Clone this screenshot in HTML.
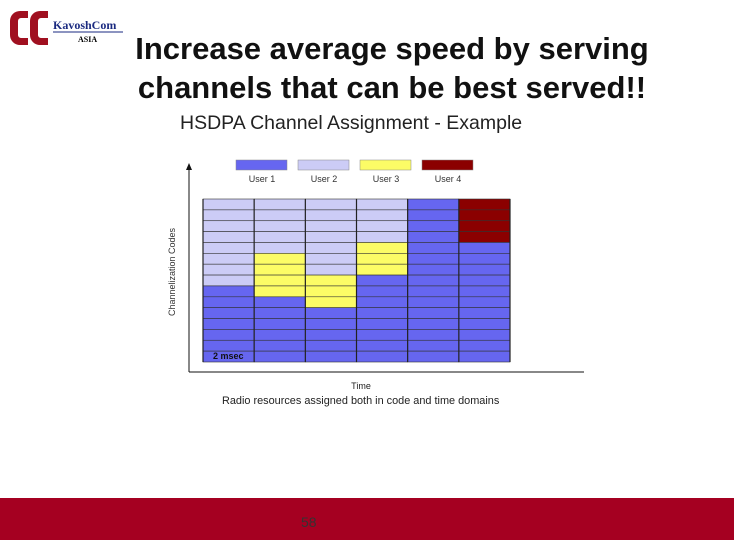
<!DOCTYPE html>
<html><head><meta charset="utf-8"><style>
body{margin:0;width:734px;height:540px;background:#fff;position:relative;overflow:hidden;font-family:"Liberation Sans",sans-serif}
.t{position:absolute;white-space:nowrap}
</style></head><body>
<div class="t" style="left:8px;top:8px;width:120px;height:44px">
<svg width="120" height="44"><path d="M20 3 h-8 a10 10 0 0 0 -10 10 v14 a10 10 0 0 0 10 10 h8 v-7 h-7 a3 3 0 0 1 -3 -3 v-14 a3 3 0 0 1 3 -3 h7z" fill="#a01020"/><path d="M40 3 h-8 a10 10 0 0 0 -10 10 v14 a10 10 0 0 0 10 10 h8 v-7 h-7 a3 3 0 0 1 -3 -3 v-14 a3 3 0 0 1 3 -3 h7z" fill="#a01020"/>
<text x="45" y="21" font-family="Liberation Serif" font-size="12" font-weight="bold" fill="#1a2a80">KavoshCom</text><line x1="45" y1="24" x2="115" y2="24" stroke="#1a2a80"/><text x="70" y="34" font-family="Liberation Serif" font-size="8" font-weight="bold">ASIA</text></svg></div>
<div class="t" style="left:0;width:784px;top:29px;text-align:center;font-size:31px;font-weight:bold;line-height:39px;color:#111">Increase average speed by serving<br>channels that can be best served!!</div>
<div class="t" style="left:180px;top:112px;font-size:19.5px;color:#222">HSDPA Channel Assignment - Example</div>
<svg id="c" width="734" height="420" style="position:absolute;left:0;top:0"></svg>
<div style="position:absolute;left:0;top:498px;width:734px;height:42px;background:#a50021"></div>
<div class="t" style="left:301px;top:514px;font-size:14px;color:#333">58</div>
<script>
const users=["User 1","User 2","User 3","User 4"];
const colors=["#6666f0","#ccccf6","#fcfc66","#8b0000"];
const slot0=[1,1,1,1,1,1,1,1,0,0,0,0,0,0,0];
const slot1=[1,1,1,1,1,2,2,2,2,0,0,0,0,0,0];
const slot2=[1,1,1,1,1,1,1,2,2,2,0,0,0,0,0];
const slot3=[1,1,1,1,2,2,2,0,0,0,0,0,0,0,0];
const slot4=[0,0,0,0,0,0,0,0,0,0,0,0,0,0,0];
const slot5=[3,3,3,3,0,0,0,0,0,0,0,0,0,0,0];
const slots=[slot0,slot1,slot2,slot3,slot4,slot5];
const svg=document.getElementById('c');const NS="http://www.w3.org/2000/svg";
function mk(t,a,p){const e=document.createElementNS(NS,t);for(const k in a)e.setAttribute(k,a[k]);(p||svg).appendChild(e);return e;}
const x0=203,x1=510,y0=199,y1=362;
const cw=(x1-x0)/slots.length,rh=(y1-y0)/slot0.length;
const xs=i=>x0+i*cw,ys=j=>y0+j*rh;
slots.forEach((s,i)=>s.forEach((u,j)=>{
const r=mk('rect',{x:xs(i),y:ys(j),width:cw,height:rh,fill:colors[u],stroke:"#333","stroke-width":0.6});


}));
for(let i=0;i<=slots.length;i++){mk('line',{x1:xs(i),y1:y0,x2:xs(i),y2:y1,stroke:"#222","stroke-width":1.2});}
const ms=mk('text',{x:213,y:359,"font-size":9,"font-weight":"bold",fill:"#111"});ms.textContent="2 msec";
users.forEach((u,i)=>{
const r=mk('rect',{x:236+i*62,y:160,width:51,height:10,fill:colors[i],stroke:"#888","stroke-width":0.5});


const t=mk('text',{x:262+i*62,y:182,"font-size":9,"text-anchor":"middle",fill:"#333"});t.textContent=u;


});
mk('line',{x1:189,y1:372,x2:189,y2:166,stroke:"#111","stroke-width":1});
mk('path',{d:"M186 170 L189 163 L192 170Z",fill:"#111"});
mk('line',{x1:189,y1:372,x2:584,y2:372,stroke:"#111","stroke-width":1});
const yl=mk('text',{x:175,y:272,"font-size":9,"text-anchor":"middle",fill:"#333",transform:"rotate(-90 175 272)"});yl.textContent="Channelization Codes";

const xl=mk('text',{x:361,y:389,"font-size":9,"text-anchor":"middle",fill:"#222"});xl.textContent="Time";

const cap=mk('text',{x:222,y:404,"font-size":10.9,fill:"#222"});cap.textContent="Radio resources assigned both in code and time domains";

</script>
</body></html>
